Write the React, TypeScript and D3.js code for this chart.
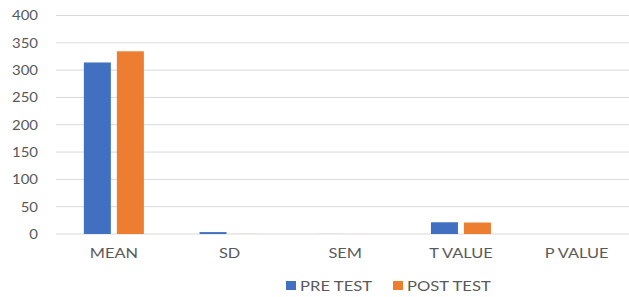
import React from "react";
import * as d3 from "d3";

const categories = ["MEAN", "SD", "SEM", "T VALUE", "P VALUE"];
const preTest = [314, 3.5, 0.1, 21.5, 0.01];
const postTest = [334.5, 0.1, 0.05, 21, 0.01];
const yTicks = [0, 50, 100, 150, 200, 250, 300, 350, 400];
const seriesNames = ["PRE TEST", "POST TEST"];
const colors = ["#4170C0", "#ED7D31"];

export default function App() {
  const W = 629, H = 297;
  const x = d3.scaleBand<string>().domain(categories).range([56, 634.5]);
  const y = d3.scaleLinear().domain([0, 400]).range([234, 15.5]);
  const barW = 27;
  const gap = 6;
  const series = [preTest, postTest];
  const font = "Lato, 'Open Sans', sans-serif";
  const fs = 14;
  return (
    <svg width={W} height={H} style={{ position: "absolute", left: 0, top: 0, background: "#fff" }}>
      {yTicks.map((t) => (
        <g key={t}>
          <line x1={56} x2={W} y1={y(t)} y2={y(t)} stroke="#d9d9d9" strokeWidth={1} />
          <text transform={`translate(38,${y(t)}) scale(1.07,1)`} dy="0.35em" textAnchor="end" fontFamily={font} fontSize={fs} fill="#595959">
            {t}
          </text>
        </g>
      ))}
      {categories.map((c, i) => {
        const cx = (x(c) as number) + x.bandwidth() / 2;
        return (
          <g key={c}>
            {series.map((s, j) => {
              const bx = j === 0 ? cx - gap / 2 - barW : cx + gap / 2;
              return (
                <rect key={j} x={bx} y={y(s[i])} width={barW} height={y(0) - y(s[i])} fill={colors[j]} />
              );
            })}
            <text transform={`translate(${cx},253) scale(1.17,1)`} dy="0.35em" textAnchor="middle" fontFamily={font} fontSize={fs} fill="#595959">
              {c}
            </text>
          </g>
        );
      })}
      {seriesNames.map((n, j) => {
        const lx = j === 0 ? 286 : 393;
        return (
          <g key={n}>
            <rect x={lx} y={281} width={10} height={9} fill={colors[j]} />
            <text transform={`translate(${lx + 14},286) scale(1.19,1)`} dy="0.35em" fontFamily={font} fontSize={fs} fill="#595959">
              {n}
            </text>
          </g>
        );
      })}
    </svg>
  );
}
